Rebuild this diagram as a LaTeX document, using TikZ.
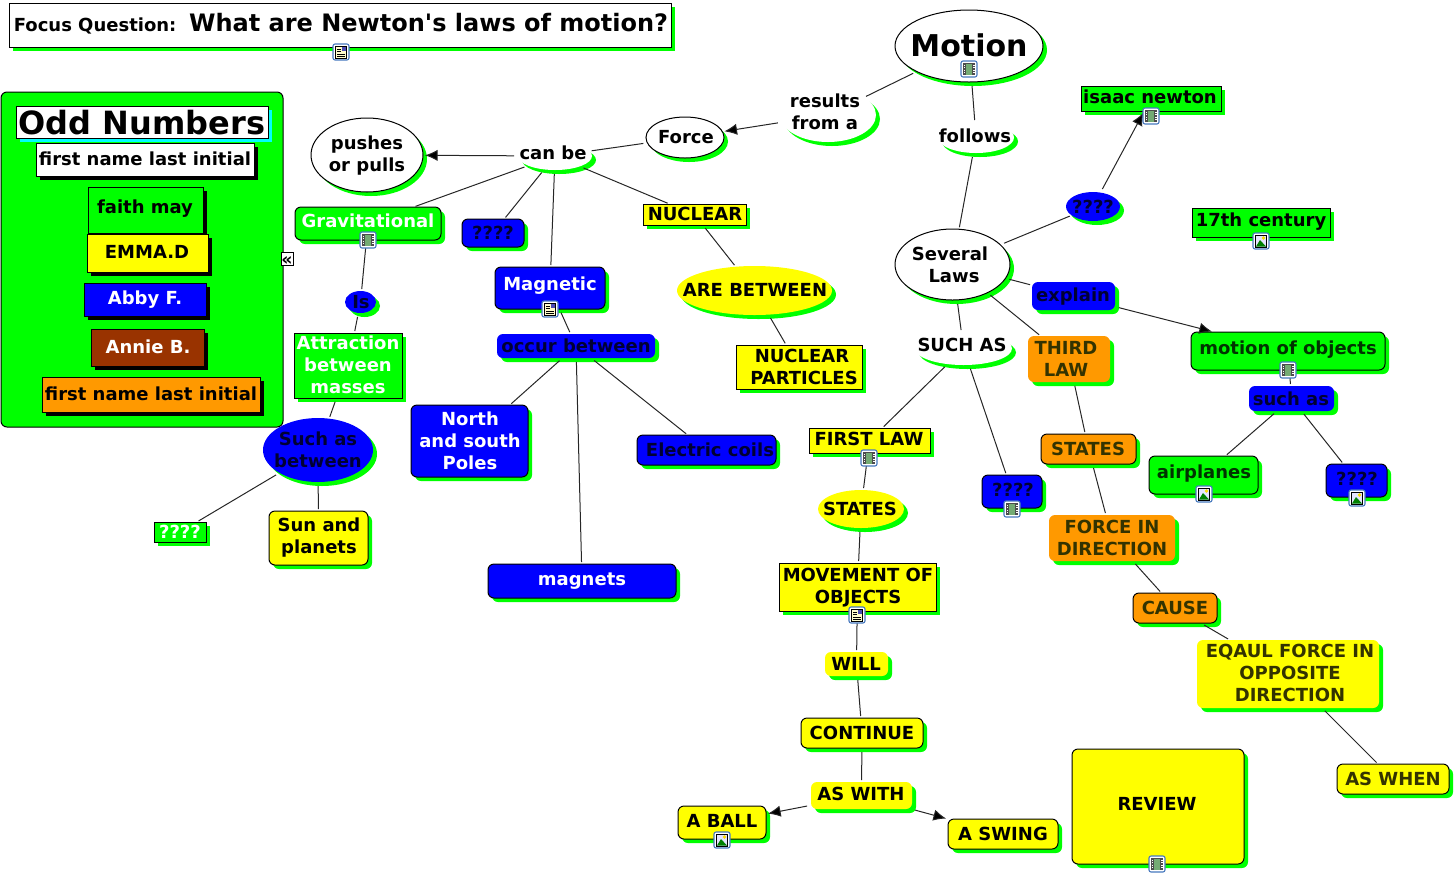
\documentclass[tikz,border=0pt]{standalone}
\usepackage{fontspec}
\setmainfont{DejaVu Sans}
\usetikzlibrary{shapes.geometric,shadows,arrows.meta}
\definecolor{gr}{RGB}{0,255,0}
\definecolor{ye}{RGB}{255,255,0}
\definecolor{bl}{RGB}{0,0,255}
\definecolor{org}{RGB}{255,153,0}
\definecolor{brn}{RGB}{153,51,0}
\definecolor{dko}{RGB}{51,51,0}
\definecolor{dkg}{RGB}{0,51,0}
\definecolor{dkb}{RGB}{0,0,51}
\definecolor{cy}{RGB}{0,255,255}
\definecolor{icb}{RGB}{70,120,190}
\newcommand{\W}{\color{white}}
\newcommand{\Do}{\color{dko}}
\newcommand{\Dg}{\color{dkg}}
\newcommand{\Db}{\color{dkb}}
\newcommand{\ls}{\rule[-.24em]{0pt}{.98em}}
\tikzset{
  txt/.style={font=\fontsize{13.5}{16.5}\selectfont\bfseries,align=center,inner sep=0pt,outer sep=0pt},
  bd/.style={draw=black,line width=.75pt},
  rr/.style={rectangle,rounded corners=4.5pt},
  re/.style={rectangle},
  el/.style={ellipse},
  sg/.style={general shadow={shadow xshift=3pt,shadow yshift=-3pt,fill=gr}},
  sk/.style={general shadow={shadow xshift=3pt,shadow yshift=-3pt,fill=black}},
  sc/.style={general shadow={shadow xshift=3pt,shadow yshift=-3pt,fill=cy}},
  conn/.style={line width=.75pt,draw=black!85,shorten <=3pt,shorten >=1.5pt},
  arr/.style={conn,-{Latex[length=9.5pt,width=8.5pt,fill=black]}}
}
% [style]{name}{x0}{y0}{x1}{y1}{text cx}{text cy}{text}
\newcommand{\N}[9][]{%
  \node[inner sep=0pt,outer sep=0pt,
    minimum width={(#5-#3)*0.75pt},minimum height={(#6-#4)*0.75pt},#1,
    label={[txt,xshift={(#7-(#3+#5)/2)*0.75pt},yshift={-(#8-(#4+#6)/2+2)*0.75pt}]center:{#9}}]
    (#2) at ({(#3+#5)/2},{(#4+#6)/2}) {};}
\newcommand{\C}[2]{\draw[conn] (#1) -- (#2);}
\newcommand{\A}[2]{\draw[arr] (#1) -- (#2);}
\newcommand{\IF}[2]{\begin{scope}[shift={(#1,#2)}]
  \draw[draw=icb,fill=white,line width=.8pt,rounded corners=1.5pt] (-8,-8) rectangle (8,8);
  \fill[black!70] (-6,-6) rectangle (6,6);
  \fill[green!40!black!55!white] (-3,-5.5) rectangle (3,5.5);
  \foreach \q in {-4.5,-2,0.5,3}{\fill[white] (-5.5,\q) rectangle (-4,\q+1.2);\fill[white] (4,\q) rectangle (5.5,\q+1.2);}
  \end{scope}}
\newcommand{\ID}[2]{\begin{scope}[shift={(#1,#2)}]
  \draw[draw=icb,fill=white,line width=.8pt,rounded corners=1.5pt] (-8,-8) rectangle (8,8);
  \draw[draw=black,fill=yellow!20,line width=.6pt] (-5.5,-6) rectangle (5.5,6);
  \fill[blue!40!gray] (1,-5) rectangle (5,-1);
  \foreach \q in {-3,-.5}{\draw[line width=.6pt] (-4,\q) -- (0,\q);}
  \foreach \q in {2,4}{\draw[line width=.6pt] (-4,\q) -- (4,\q);}
  \end{scope}}
\newcommand{\II}[2]{\begin{scope}[shift={(#1,#2)}]
  \draw[draw=icb,fill=white,line width=.8pt,rounded corners=1.5pt] (-8,-8) rectangle (8,8);
  \draw[draw=black,fill=blue!10,line width=.6pt] (-5.5,-6) rectangle (5.5,6);
  \fill[green!50!black] (-5,5.5) -- (-1,-1) -- (5,5.5) -- cycle;
  \fill[yellow!80!orange] (2.5,-3) circle (1.8);
  \end{scope}}
\begin{document}
\begin{tikzpicture}[x=0.75pt,y=-0.75pt]
\useasboundingbox (0,0) rectangle (1454,876);
% focus question
\N[re,bd,fill=white,sg]{focus}{9}{3}{671}{47}{341}{23}{\ls\fontsize{13.5}{16.5}\selectfont Focus Question:\hspace{9.5pt}{\fontsize{18}{22}\selectfont What are Newton\textquotesingle s laws of motion?}}
% left panel
\N[rr,bd,fill=gr]{panel}{1}{92}{283}{427}{142}{260}{}
\N[re,bd,fill=white]{coll}{281}{252}{293}{265}{287}{259}{\fontsize{13}{13}\selectfont «}
\N[re,bd,fill=white,sc]{odd}{16}{106}{268}{138}{142}{122}{\ls\fontsize{24}{28}\selectfont Odd Numbers}
\N[re,bd,fill=white,sk]{fn1}{36}{143}{254}{176}{145}{159}{\ls first name last initial}
\N[re,bd,fill=gr,sk]{faith}{88}{187}{203}{233}{145}{207}{\ls faith may}
\N[re,bd,fill=ye,sk]{emma}{87}{234}{208}{272}{147}{252}{\ls EMMA.D}
\N[re,bd,fill=bl,sk]{abby}{84}{283}{206}{316}{145}{298}{\W\ls Abby F.}
\N[re,bd,fill=brn,sk]{annie}{91}{329}{204}{366}{148}{347}{\W\ls Annie B.}
\N[re,bd,fill=org,sk]{fn2}{42}{377}{260}{412}{151}{394}{\ls first name last initial}
% ellipses top
\N[el,bd,fill=white,sg]{motion}{895}{10}{1043}{82}{969}{45}{\ls\fontsize{22.5}{26}\selectfont Motion}
\N[el,fill=white,sg]{results}{780}{88}{876}{142}{825}{112}{\ls results\\\ls from a}
\N[el,bd,fill=white,sg]{force}{646}{117}{724}{158}{686}{137}{\ls Force}
\N[el,fill=white,sg]{canbe}{518}{142}{592}{170}{553}{153}{\ls can be}
\N[el,bd,fill=white,sg]{pushes}{311}{118}{423}{192}{367}{154}{\ls pushes\\\ls or pulls}
\N[el,fill=white,sg]{follows}{938}{122}{1014}{153}{975}{136}{\ls follows}
\N[re,bd,fill=gr,sg]{isaac}{1081}{86}{1221}{111}{1150}{97}{\ls isaac newton}
\N[el,fill=bl,sg]{q1}{1066}{192}{1120}{221}{1093}{207}{\Db\ls ????}
\N[re,bd,fill=gr,sg]{century}{1192}{208}{1330}{237}{1261}{220}{\ls 17th century}
\N[el,bd,fill=white,sg]{several}{895}{229}{1010}{300}{950}{265}{\ls Several\\\ls\hspace{6pt}Laws}
\N[rr,fill=bl,sg]{explain}{1032}{282}{1115}{310}{1073}{295}{\Db\ls explain}
\N[rr,bd,fill=gr,sg]{moo}{1191}{332}{1385}{370}{1288}{348}{\Dg\ls motion of objects}
\N[rr,fill=bl,sg]{suchas2}{1249}{386}{1334}{411}{1291}{399}{\Db\ls such as}
\N[rr,bd,fill=gr,sg]{air}{1149}{456}{1258}{494}{1204}{472}{\Dg\ls airplanes}
\N[rr,bd,fill=bl,sg]{q2}{1326}{464}{1387}{497}{1357}{479}{\Db\ls ????}
\N[el,fill=white,sg]{suchas}{915}{332}{1012}{365}{962}{345}{\ls SUCH AS}
\N[rr,fill=org,sg]{third}{1028}{336}{1110}{382}{1066}{359}{\Do\ls THIRD\\\Do\ls LAW}
\N[rr,bd,fill=org,sg]{states2}{1041}{434}{1136}{464}{1088}{449}{\Do\ls STATES}
\N[rr,fill=org,sg]{forcein}{1049}{515}{1175}{561}{1112}{538}{\Do\ls FORCE IN\\\Do\ls DIRECTION}
\N[rr,bd,fill=org,sg]{cause}{1133}{593}{1217}{623}{1175}{608}{\Do\ls CAUSE}
\N[rr,fill=ye,sg]{eqaul}{1197}{640}{1379}{708}{1290}{673}{\Do\ls EQAUL FORCE IN\\\Do\ls OPPOSITE\\\Do\ls DIRECTION}
\N[rr,bd,fill=ye,sg]{aswhen}{1337}{764}{1449}{794}{1393}{779}{\Do\ls AS WHEN}
\N[rr,bd,fill=ye,sg]{review}{1072}{749}{1244}{864}{1157}{804}{\ls REVIEW}
\N[rr,bd,fill=ye,sg]{swing}{948}{819}{1058}{849}{1003}{834}{\ls A SWING}
\N[rr,fill=ye,sg]{aswith}{811}{782}{912}{809}{861}{794}{\ls AS WITH}
\N[rr,bd,fill=ye,sg]{ball}{678}{806}{766}{839}{722}{821}{\ls A BALL}
\N[rr,bd,fill=ye,sg]{continue}{801}{718}{923}{748}{862}{733}{\ls CONTINUE}
\N[rr,fill=ye,sg]{will}{825}{652}{888}{676}{856}{664}{\ls WILL}
\N[re,bd,fill=ye,sg]{movement}{779}{563}{936}{611}{858}{586}{\ls MOVEMENT OF\\\ls OBJECTS}
\N[el,fill=ye,sg]{states1}{818}{490}{904}{528}{860}{509}{\ls STATES}
\N[re,bd,fill=ye,sg]{first}{809}{428}{930}{453}{869}{439}{\ls FIRST LAW}
\N[rr,bd,fill=bl,sg]{q3}{982}{475}{1042}{508}{1013}{490}{\Db\ls ????}
\N[rr,bd,fill=gr,sg]{grav}{295}{207}{441}{240}{368}{221}{\W\ls Gravitational}
\N[el,fill=bl,sg]{is}{345}{291}{376}{313}{361}{302}{\Db\ls Is}
\N[re,bd,fill=gr,sg]{attr}{294}{333}{402}{398}{348}{365}{\W\ls Attraction\\\W\ls between\\\W\ls masses}
\N[el,fill=bl,sg]{suchbtw}{263}{418}{373}{482}{318}{450}{\Db\ls Such as\\\Db\ls between}
\N[re,bd,fill=gr,sg]{q4}{154}{522}{206}{542}{180}{532}{\W\ls ????}
\N[rr,bd,fill=ye,sg]{sun}{269}{511}{368}{565}{319}{536}{\ls Sun and\\\ls planets}
\N[rr,bd,fill=bl,sg]{q5}{462}{219}{524}{247}{493}{233}{\Db\ls ????}
\N[rr,bd,fill=bl,sg]{magnetic}{495}{267}{605}{309}{550}{284}{\W\ls Magnetic}
\N[rr,fill=bl,sg]{occur}{497}{334}{655}{358}{576}{346}{\Db\ls occur between}
\N[rr,bd,fill=bl,sg]{north}{411}{405}{528}{477}{470}{441}{\W\ls North\\\W\ls and south\\\W\ls Poles}
\N[rr,bd,fill=bl,sg]{coils}{637}{435}{776}{465}{710}{450}{\Db\ls Electric coils}
\N[rr,bd,fill=bl,sg]{magnets}{488}{564}{676}{598}{582}{579}{\W\ls magnets}
\N[re,bd,fill=ye,sg]{nuclear}{643}{204}{746}{225}{695}{214}{\ls NUCLEAR}
\N[el,fill=ye,sg]{arebtw}{677}{266}{832}{315}{755}{290}{\ls ARE BETWEEN}
\N[re,bd,fill=ye,sg]{particles}{736}{345}{862}{389}{802}{367}{\ls NUCLEAR\\\ls\hspace{3pt}PARTICLES}
% connectors
\C{motion}{results}
\A{results}{force}
\C{force}{canbe}
\A{canbe}{pushes}
\C{canbe}{grav}
\C{canbe}{q5}
\C{canbe}{magnetic}
\C{canbe}{nuclear}
\C{nuclear}{arebtw}
\C{arebtw}{particles}
\C{grav}{is}
\C{is}{attr}
\C{attr}{suchbtw}
\C{suchbtw}{q4}
\C{suchbtw}{sun}
\C{magnetic}{occur}
\C{occur}{north}
\C{occur}{magnets}
\C{occur}{coils}
\C{motion}{follows}
\C{follows}{several}
\C{several}{q1}
\A{q1}{isaac}
\C{several}{explain}
\A{explain}{moo}
\C{moo}{suchas2}
\C{suchas2}{air}
\C{suchas2}{q2}
\C{several}{suchas}
\C{several}{third}
\C{suchas}{first}
\C{suchas}{q3}
\C{first}{states1}
\C{states1}{movement}
\C{movement}{will}
\C{will}{continue}
\C{continue}{aswith}
\A{aswith}{ball}
\A{aswith}{swing}
\C{third}{states2}
\C{states2}{forcein}
\C{forcein}{cause}
\C{cause}{eqaul}
\C{eqaul}{aswhen}
% icons
\ID{341}{52}
\IF{368}{240}
\IF{969}{69}
\IF{1151}{116}
\II{1261}{241}
\IF{1288}{370}
\II{1204}{494}
\II{1357}{498}
\IF{869}{458}
\IF{1012}{509}
\ID{857}{615}
\ID{550}{309}
\II{722}{840}
\IF{1157}{864}
\end{tikzpicture}
\end{document}
